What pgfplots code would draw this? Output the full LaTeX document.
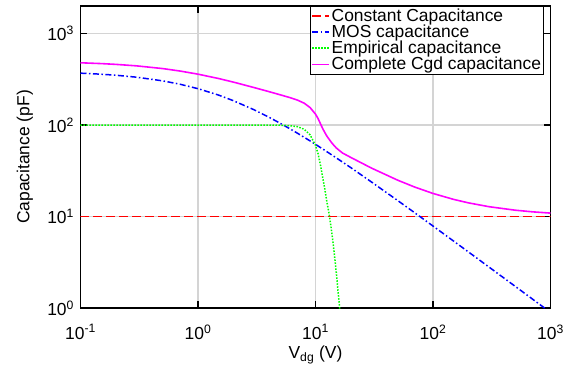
\documentclass[border=0pt]{standalone}
\usepackage{fontspec}
\setmainfont{Liberation Sans}
\usepackage{pgfplots}
\pgfplotsset{compat=1.18}
\definecolor{gridgray}{gray}{0.83}
\definecolor{cred}{RGB}{255,0,0}
\definecolor{cblue}{RGB}{0,0,255}
\definecolor{cgreen}{RGB}{0,255,0}
\definecolor{cmag}{RGB}{255,0,255}
\begin{document}
\begin{tikzpicture}
\begin{axis}[
  scale only axis,
  width=470bp, height=302bp,
  xmode=log, ymode=log,
  xmin=0.1, xmax=1000, ymin=1, ymax=2000,
  log basis x=10, log basis y=10,
  xtick={0.1,1,10,100,1000},
  xticklabels={10\textsuperscript{-1},10\textsuperscript{0},10\textsuperscript{1},10\textsuperscript{2},10\textsuperscript{3}},
  ytick={1,10,100,1000},
  yticklabels={10\textsuperscript{0},10\textsuperscript{1},10\textsuperscript{2},10\textsuperscript{3}},
  tick label style={font=\fontsize{17.5}{20}\selectfont},
  label style={font=\fontsize{17.5}{20}\selectfont},
  xlabel={V\textsubscript{dg} (V)},
  ylabel={Capacitance (pF)},
  xlabel style={at={(axis description cs:0.5,0)},anchor=north,yshift=-34bp},
  ylabel style={at={(axis description cs:0,0.5)},anchor=south,yshift=44bp},
  xticklabel style={yshift=-13bp},
  yticklabel style={xshift=-3bp},
  tick align=inside,
  major tick length=7bp,
  minor tick length=4bp,
  every tick/.style={black, line width=1.1pt},
  axis line style={line width=1.5pt},
  grid=major,
  major grid style={gridgray, line width=1.3pt},
  legend cell align=left,
  legend style={at={(rel axis cs:0.986,1)}, anchor=north east,
    draw=black, line width=0.8pt, inner sep=1bp, row sep=-1bp,
    font=\fontsize{17.5}{20}\selectfont,
    nodes={inner sep=1.5bp}},
  legend image code/.code={\draw[#1] (0bp,0bp) -- (17bp,0bp);},
]
\addplot[cred, line width=1.5pt, dash pattern=on 9bp off 4bp] coordinates {
(0.1,10) (1000,10)};
\addlegendentry{Constant Capacitance}

\addplot[cblue, line width=1.5pt, dash pattern=on 6bp off 2.5bp on 1.5bp off 2.5bp] coordinates {
(0.1,369.0) (0.15,359.4) (0.2,350.2) (0.3,333.3) (0.5,304.1) (0.7,279.6)
(1,249.7) (1.5,212.2) (2,184.6) (3,146.8) (4,122.1) (5,104.6) (6,91.6)
(7,81.6) (8,73.5) (9,67.0) (10,61.5) (12,52.9) (15,43.8) (20,34.2)
(30,23.8) (50,14.97) (70,10.97) (100,7.87) (150,5.38) (200,4.105)
(300,2.80) (500,1.727) (700,1.256) (1000,0.895)};
\addlegendentry{MOS capacitance}

\addplot[cgreen, line width=1.5pt, dash pattern=on 1.5bp off 1.5bp] coordinates {
(0.1,100) (1,100) (3,100) (4,100) (5,99.5) (6,98.5) (7,96) (8,90) (9,78)
(10,60) (10.5,49) (11,37) (11.5,27) (12,20) (12.5,14.5) (13,11) (13.5,8)
(14,5.6) (14.5,3.8) (15,2.5) (15.5,1.6) (16,1.05) (16.5,0.7)};
\addlegendentry{Empirical capacitance}

\addplot[cmag, line width=1.6pt] coordinates {
(0.1,479.0) (0.15,469.4) (0.2,460.2) (0.3,443.3) (0.5,414.1) (0.7,389.6)
(1,359.7) (1.5,322.2) (2,294.6) (3,256.8) (4,232.1) (5,214.1) (6,200.1)
(7,187.6) (8,173.5) (9,155.0) (10,131.5) (10.5,118.1) (11,103.9)
(11.5,91.8) (12,82.9) (12.5,75.6) (13,70.5) (13.5,65.9) (14,62.1)
(15,56.3) (16,52.55) (17,49.4) (20,44.2) (30,33.8) (50,24.97) (70,20.97)
(100,17.87) (150,15.38) (200,14.105) (300,12.80) (500,11.727)
(700,11.256) (1000,10.895)};
\addlegendentry{Complete Cgd capacitance}
\end{axis}
\pgfresetboundingbox
\path (current axis.south west) ++(-80.5bp,-65bp) coordinate (bbA);
\path (current axis.north east) ++(26.5bp,6bp) coordinate (bbB);
\useasboundingbox (bbA) rectangle (bbB);
\end{tikzpicture}
\end{document}
